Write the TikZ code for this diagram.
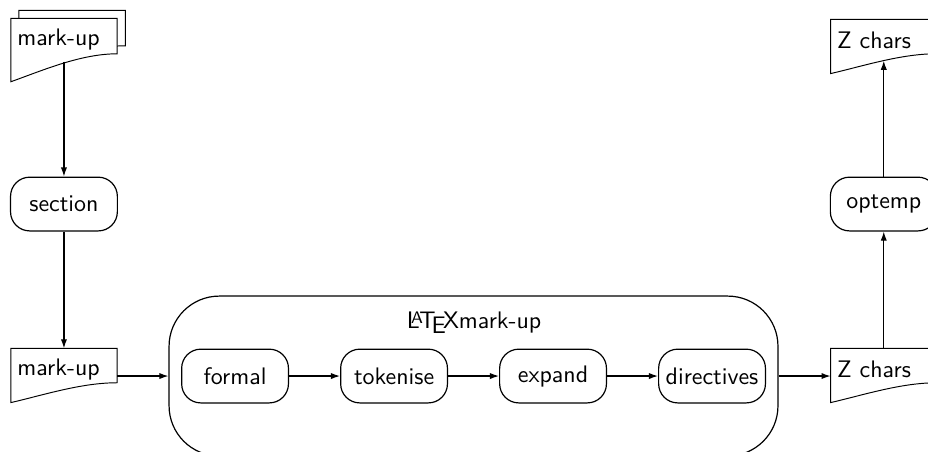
\documentclass[tikz,border=0pt]{standalone}
\usetikzlibrary{arrows.meta,backgrounds}

\newcommand{\docpage}[3]{%
  \draw[fill=white] (#1.north west) -- (#1.north east) -- ([yshift=#2]#1.south east)
    .. controls +(-15pt,0pt) and +(14pt,0.6*#3) .. ([yshift=-#3]#1.south west) -- cycle;}

\begin{document}
\begin{tikzpicture}[font=\sffamily,line width=0.5pt,>={Latex[length=3.8pt,width=2.6pt]},
  docnode/.style={minimum height=0.59cm,text width=1.37cm,inner xsep=2.5pt,inner ysep=0pt,align=left},
  procnode/.style={draw,rounded corners=8pt,minimum width=1.57cm,minimum height=0.79cm,inner xsep=1pt},
  groupnode/.style={draw,rounded corners=21pt,minimum width=8.95cm,minimum height=2.35cm}]
\useasboundingbox (0,0) rectangle (13.64,-6.63);

\node (markup-back) [docnode,minimum height=0.62cm] at (1.06,-0.47) {};
\node (markup-top) [docnode,minimum height=0.62cm] at (0.94,-0.588) {mark-up};
\node (section) [procnode] at (0.94,-2.999) {section};
\node (markup-bot) [docnode] at (0.94,-5.424) {mark-up};

\node (latex) [groupnode] at (6.960,-5.527) {};
\node (title) at (6.968,-4.748) {\LaTeX mark-up};
\node (formal) [procnode] at (3.455,-5.527) {formal};
\node (tokenise) [procnode] at (5.792,-5.527) {tokenise};
\node (expand) [procnode] at (8.129,-5.527) {expand};
\node (directives) [procnode] at (10.466,-5.527) {directives};

\node (zchars-bot) [docnode] at (12.99,-5.424) {Z chars};
\node (optemp) [procnode] at (12.99,-2.999) {optemp};
\node (zchars-top) [docnode] at (12.99,-0.588) {Z chars};

\begin{scope}[on background layer]
\docpage{markup-back}{3.3pt}{8.4pt}
\docpage{markup-top}{3.3pt}{8.4pt}
\docpage{markup-bot}{2.9pt}{5.4pt}
\docpage{zchars-bot}{2.9pt}{5.4pt}
\docpage{zchars-top}{2.9pt}{5.4pt}
\end{scope}

\draw [->] (markup-top.south) -- (section.north);
\draw [->] (section.south) -- (markup-bot.north);
\draw [->] (markup-bot.east |- latex.west) -- (latex.west);
\draw [->] (formal) -- (tokenise);
\draw [->] (tokenise) -- (expand);
\draw [->] (expand) -- (directives);
\draw [->] (latex.east) -- (zchars-bot.west |- latex.east);
\draw [->] (zchars-bot.north) -- (optemp.south);
\draw [->] (optemp.north) -- (zchars-top.south);
\end{tikzpicture}
\end{document}
